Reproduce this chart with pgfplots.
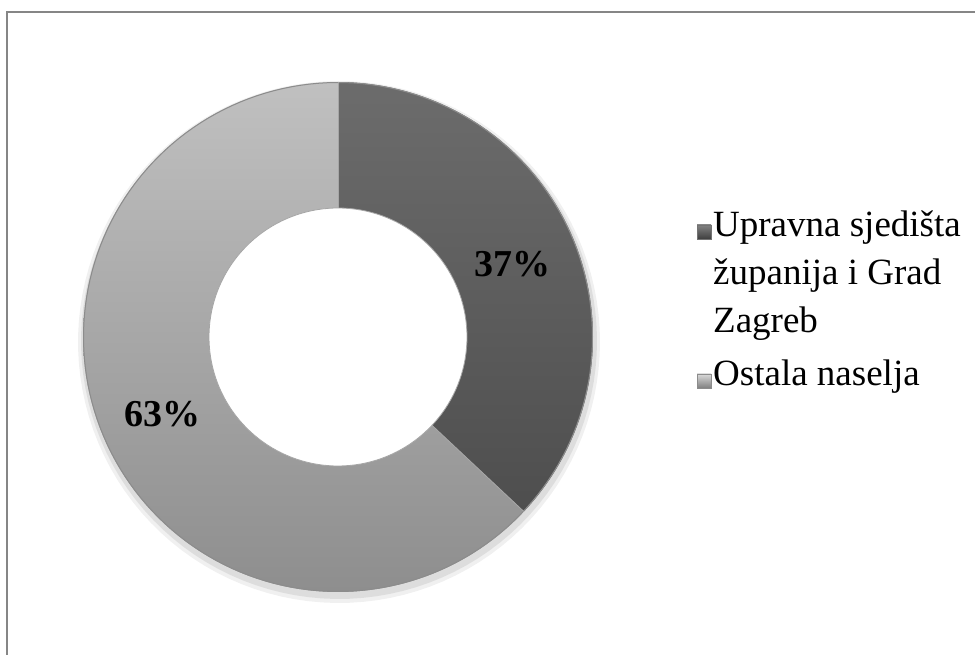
\documentclass[border=0pt]{standalone}
\usepackage{pgfplots}
\pgfplotsset{compat=1.18}
\usepackage{fontspec}
\setmainfont{Liberation Serif}
\definecolor{darkTop}{HTML}{6C6C6C}
\definecolor{darkBot}{HTML}{4E4E4E}
\definecolor{lightTop}{HTML}{C0C0C0}
\definecolor{lightBot}{HTML}{8E8E8E}
\definecolor{frameC}{HTML}{868686}
\begin{document}
\begin{tikzpicture}
% data (percent shares)
\pgfmathsetmacro{\va}{37}% Upravna sjedišta županija i Grad Zagreb
\pgfmathsetmacro{\vb}{63}% Ostala naselja
\pgfmathsetmacro{\angA}{90-3.6*\va}
\pgfmathsetmacro{\angB}{\angA-3.6*\vb}
\begin{axis}[width=975pt, height=655pt, scale only axis,
  xmin=0, xmax=975, ymin=0, ymax=655, hide axis, clip=false]
\coordinate (BL) at (axis cs:0,0);
\coordinate (TR) at (axis cs:975,655);
% frame
\draw[frameC, line width=1.5pt] (axis cs:7,0) -- (axis cs:7,643) -- (axis cs:975,643);
% soft shadow
\addplot[draw=none, fill=black, opacity=0.06, domain=0:360, samples=120] ({339+261*cos(x)},{313+261*sin(x)}) -- cycle;
\addplot[draw=none, fill=black, opacity=0.08, domain=0:360, samples=120] ({339+258*cos(x)},{314+258*sin(x)}) -- cycle;
% dark wedge
\addplot[draw=none, top color=darkTop, bottom color=darkBot, domain=\angA:90, samples=90]
  ({338+255*cos(x)},{318+255*sin(x)}) -- (axis cs:338,318) -- cycle;
% light wedge
\addplot[draw=none, top color=lightTop, bottom color=lightBot, domain=\angB:\angA, samples=160]
  ({338+255*cos(x)},{318+255*sin(x)}) -- (axis cs:338,318) -- cycle;
% rims
\addplot[draw=black!45, line width=1pt, domain=0:360, samples=180] ({338+254.5*cos(x)},{318+254.5*sin(x)});
% hole
\addplot[fill=white, draw=black!35, line width=0.8pt, domain=0:360, samples=150] ({338+129*cos(x)},{318+129*sin(x)}) -- cycle;
% segment borders
\addplot[draw=black!35, line width=0.8pt, domain=0:1, samples=2] ({338+(129+126*x)*cos(\angA)},{318+(129+126*x)*sin(\angA)});
\addplot[draw=black!35, line width=0.8pt, domain=0:1, samples=2] ({338+(129+126*x)*cos(90)},{318+(129+126*x)*sin(90)});
% percentage labels
\node[font=\bfseries\fontsize{38}{44}\selectfont] at (axis cs:512,391) {37\%};
\node[font=\bfseries\fontsize{38}{44}\selectfont] at (axis cs:162,241) {63\%};
% legend
\fill[top color=darkTop!85!white, bottom color=darkBot!80!black, draw=black!55, line width=0.5pt] (axis cs:697,416) rectangle (axis cs:711,430);
\fill[top color=lightTop!60!white, bottom color=lightBot!90!black, draw=black!45, line width=0.5pt] (axis cs:697,267) rectangle (axis cs:711,281);
\node[anchor=base west, inner sep=0pt, font=\fontsize{37}{48}\selectfont] at (axis cs:713,418) {Upravna sjedišta};
\node[anchor=base west, inner sep=0pt, font=\fontsize{37}{48}\selectfont] at (axis cs:713,370) {županija i Grad};
\node[anchor=base west, inner sep=0pt, font=\fontsize{37}{48}\selectfont] at (axis cs:713,322) {Zagreb};
\node[anchor=base west, inner sep=0pt, font=\fontsize{37}{48}\selectfont] at (axis cs:713,269) {Ostala naselja};
\end{axis}
\pgfresetboundingbox
\path[use as bounding box] (BL) rectangle (TR);
\end{tikzpicture}
\end{document}
